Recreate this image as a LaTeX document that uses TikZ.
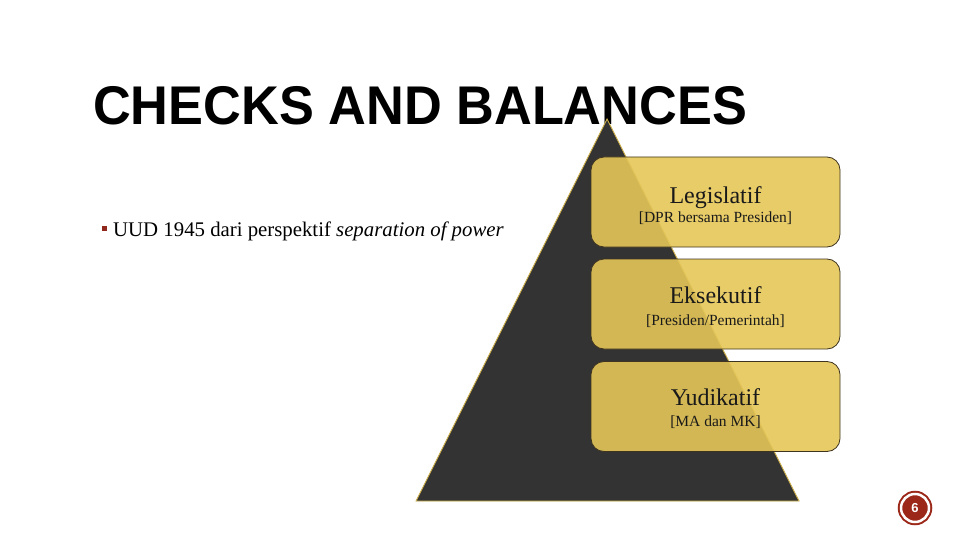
\documentclass[tikz,border=0pt]{standalone}
\usepackage{fontspec}
\setmainfont{Liberation Serif}
\newfontfamily\titlefont{Liberation Sans}
\usepackage{tikz}
\usetikzlibrary{shapes,arrows,positioning,calc}

\definecolor{boxgold}{RGB}{229,198,88}
\definecolor{pyrdark}{RGB}{51,51,51}
\definecolor{pyredge}{RGB}{205,175,75}
\definecolor{boxline}{RGB}{62,52,32}
\definecolor{badgered}{RGB}{155,40,25}
\definecolor{bulletred}{RGB}{145,40,30}

\begin{document}
\begin{tikzpicture}[
    x=1pt, y=-1pt,
    title/.style={font=\titlefont\bfseries\fontsize{54.5}{60}\selectfont, inner sep=0pt},
    pyramid/.style={draw=pyredge, line width=0.9pt, fill=pyrdark},
    branch/.style={rectangle, rounded corners=13pt, draw=boxline, line width=0.8pt, fill=boxgold, fill opacity=0.9, minimum width=249pt, minimum height=90pt},
    head/.style={font=\fontsize{24}{28}\selectfont, text=black!90, inner sep=0pt},
    sub/.style={font=\fontsize{15.5}{18}\selectfont, text=black!90, inner sep=0pt},
    point/.style={font=\fontsize{20.8}{24}\selectfont, inner sep=0pt},
    badge/.style={circle, fill=badgered, draw=badgered, line width=2pt, double=white, double distance=2.5pt, minimum size=28pt, inner sep=0pt, text=white, font=\titlefont\bfseries\fontsize{13}{15}\selectfont}
]
\useasboundingbox (0,0) rectangle (960,540);

% Title
\node[title, anchor=base west] (title) at (93,125) {\scalebox{0.96}[1]{CHECKS AND BALANCES}};

% Bullet point
\node[fill=bulletred, minimum size=5pt, inner sep=0pt] (bullet) at (104.5,228) {};
\node[point, anchor=base west] (uud) at (113,236) {UUD 1945 dari perspektif \textit{separation of power}};

% Pyramid
\coordinate (apex) at (607,119);
\coordinate (base_r) at (799,501);
\coordinate (base_l) at (416,501);
\draw[pyramid] (apex) -- (base_r) -- (base_l) -- cycle;

% Branches
\node[branch] (legislatif) at (715.5,202) {};
\node[branch] (eksekutif) at (715.5,304) {};
\node[branch] (yudikatif) at (715.5,406.5) {};

% Labels
\node[head, anchor=base] (leg_head) at ([yshift=-1pt]legislatif.center) {Legislatif};
\node[sub, anchor=base] (leg_sub) at ([yshift=-20pt]legislatif.center) {[DPR bersama Presiden]};
\node[head, anchor=base] (eks_head) at ([yshift=1pt]eksekutif.center) {Eksekutif};
\node[sub, anchor=base] (eks_sub) at ([yshift=-21pt]eksekutif.center) {[Presiden/Pemerintah]};
\node[head, anchor=base] (yud_head) at ([yshift=1.5pt]yudikatif.center) {Yudikatif};
\node[sub, anchor=base] (yud_sub) at ([yshift=-19.5pt]yudikatif.center) {[MA dan MK]};

% Page number
\node[badge] (page) at (915,508) {6};

\end{tikzpicture}
\end{document}
